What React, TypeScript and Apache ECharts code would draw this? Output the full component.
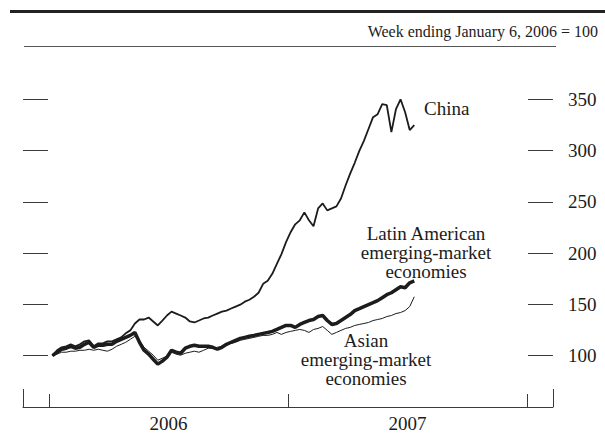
import React, { useEffect, useRef } from "react";
import * as echarts from "echarts";

// Weekly index values, week ending January 6, 2006 = 100
const FIRST_WEEK_DAY = 5; // days after Jan 1, 2006 (Jan 6, 2006)

const china = [
  100, 105.3, 108.2, 109.2, 111.1, 109.2, 111.1, 114.0, 115.0, 109.2,
  112.1, 112.1, 114.0, 114.0, 116.0, 117.9, 121.8, 124.7, 131.4, 135.3,
  135.3, 137.2, 133.4, 129.5, 134.3, 139.2, 143.0, 141.1, 139.2, 137.2,
  133.4, 132.4, 134.3, 136.3, 137.2, 139.2, 141.1, 143.0, 144.0, 146.0,
  147.9, 149.8, 152.7, 154.6, 157.5, 161.4, 170.1, 173.0, 179.8, 189.5,
  199.1, 210.7, 220.4, 228.1, 232.0, 239.7, 232.0, 226.2, 243.6, 248.5,
  241.7, 243.6, 245.6, 253.3, 265.9, 277.5, 288.1, 299.7, 309.4, 321.0,
  332.6, 335.5, 345.2, 344.2, 318.0, 340.3, 350.0, 337.4, 320.0, 324.9,
];

const latinAmerica = [
  100, 103.4, 106.3, 107.3, 109.2, 107.3, 108.2, 111.1, 113.1, 108.2,
  110.2, 110.2, 111.1, 111.1, 114.0, 116.0, 117.9, 119.8, 122.7, 113.1,
  105.3, 101.5, 96.6, 91.8, 94.7, 98.5, 105.3, 103.4, 102.4, 107.3,
  109.2, 110.2, 109.2, 109.2, 109.2, 108.2, 106.3, 108.2, 111.1, 113.1,
  115.0, 116.9, 117.9, 118.9, 119.8, 120.8, 121.8, 122.7, 123.7, 125.6,
  127.6, 129.5, 129.5, 127.6, 130.5, 132.4, 134.3, 135.3, 138.2, 139.2,
  134.3, 130.5, 131.4, 134.3, 137.2, 140.1, 144.0, 145.9, 147.9, 149.8,
  151.7, 153.7, 156.6, 159.5, 161.4, 164.3, 167.2, 166.3, 171.1, 173.0,
];

const asia = [
  100, 101.5, 103.4, 103.4, 104.4, 104.4, 105.3, 105.3, 106.3, 105.3,
  106.3, 105.3, 104.4, 106.3, 109.2, 111.1, 113.1, 116.0, 118.9, 115.0,
  108.2, 104.4, 100.5, 95.6, 97.6, 99.5, 103.4, 101.5, 100.5, 102.4,
  103.4, 104.4, 103.4, 105.3, 107.3, 107.3, 108.2, 109.2, 111.1, 112.1,
  113.1, 115.0, 116.0, 116.9, 117.9, 118.9, 119.8, 119.8, 120.8, 122.7,
  120.8, 122.7, 123.7, 124.7, 125.6, 124.7, 122.7, 125.6, 126.6, 128.5,
  124.7, 120.8, 122.7, 124.7, 126.6, 127.6, 129.5, 130.5, 131.4, 132.4,
  134.3, 135.3, 136.3, 138.2, 139.2, 141.1, 142.1, 144.0, 147.9, 157.5,
];

const yearLabels = ["2006", "2007"];
const yearStarts = [0, 365, 730];
const yTicks = [100, 150, 200, 250, 300, 350];

const FONT = "'Liberation Serif', 'Times New Roman', serif";
const INK = "#1c1c1c";
const AXIS = "#3a3a3a";

function toPairs(values: number[]) {
  return values.map((v, i) => [FIRST_WEEK_DAY + 7 * i, v]);
}

export default function App() {
  const ref = useRef<HTMLDivElement>(null);

  useEffect(() => {
    document.body.style.margin = "0";
    if (!ref.current) return;
    const chart = echarts.init(ref.current, undefined, { renderer: "svg" });

    const xBase = {
      type: "value" as const,
      min: -40,
      max: 770,
      position: "bottom" as const,
      splitLine: { show: false },
    };
    const yBase = {
      type: "value" as const,
      min: 50,
      max: 400,
      interval: 50,
      splitLine: { show: false },
      axisLine: { show: false, onZero: false },
    };

    chart.setOption({
      animation: false,
      backgroundColor: "#ffffff",
      grid: { left: 23, right: 52, top: 48, bottom: 23, containLabel: false },
      xAxis: [
        {
          ...xBase,
          axisLine: { show: true, onZero: false, lineStyle: { color: AXIS, width: 1 } },
          axisTick: {
            show: true,
            inside: true,
            length: 13,
            customValues: yearStarts,
            lineStyle: { color: AXIS, width: 1 },
          },
          axisLabel: {
            show: true,
            customValues: [182.5, 547.5],
            formatter: (v: number) => (v < 365 ? yearLabels[0] : yearLabels[1]),
            margin: 7,
            fontSize: 19,
            fontFamily: FONT,
            color: INK,
          },
        },
        {
          ...xBase,
          axisLine: { show: false, onZero: false },
          axisTick: {
            show: true,
            inside: true,
            length: 18,
            customValues: [-40, 770],
            lineStyle: { color: AXIS, width: 1 },
          },
          axisLabel: { show: false },
        },
      ],
      yAxis: [
        {
          ...yBase,
          position: "left",
          axisTick: {
            show: true,
            inside: true,
            length: 25,
            customValues: yTicks,
            lineStyle: { color: AXIS, width: 1 },
          },
          axisLabel: { show: false },
        },
        {
          ...yBase,
          position: "right",
          axisTick: {
            show: true,
            inside: true,
            length: 25,
            customValues: yTicks,
            lineStyle: { color: AXIS, width: 1 },
          },
          axisLabel: {
            show: true,
            customValues: yTicks,
            margin: 15,
            fontSize: 19,
            fontFamily: FONT,
            color: INK,
          },
        },
      ],
      series: [
        {
          name: "Latin American emerging-market economies",
          type: "line",
          data: toPairs(latinAmerica),
          showSymbol: false,
          lineStyle: { color: INK, width: 3.5 },
          xAxisIndex: 0,
          yAxisIndex: 0,
        },
        {
          name: "China",
          type: "line",
          data: toPairs(china),
          showSymbol: false,
          lineStyle: { color: INK, width: 1.8 },
          xAxisIndex: 0,
          yAxisIndex: 0,
        },
        {
          name: "Asian emerging-market economies",
          type: "line",
          data: toPairs(asia),
          showSymbol: false,
          lineStyle: { color: INK, width: 1 },
          xAxisIndex: 0,
          yAxisIndex: 0,
        },
      ],
      graphic: [
        {
          type: "line",
          shape: { x1: 10, y1: 11.5, x2: 605, y2: 11.5 },
          style: { stroke: "#222", lineWidth: 3 },
        },
        {
          type: "line",
          shape: { x1: 24, y1: 46.5, x2: 556, y2: 46.5 },
          style: { stroke: "#555", lineWidth: 1 },
        },
        {
          type: "text",
          x: 598,
          y: 31,
          style: {
            text: "Week ending January 6, 2006 = 100",
            align: "right",
            verticalAlign: "middle",
            fontSize: 16,
            fontFamily: FONT,
            fill: INK,
          },
        },
        {
          type: "text",
          x: 424,
          y: 108,
          style: {
            text: "China",
            align: "left",
            verticalAlign: "middle",
            fontSize: 19,
            fontFamily: FONT,
            fill: INK,
          },
        },
        {
          type: "text",
          x: 426,
          y: 252,
          style: {
            text: "Latin American\nemerging-market\neconomies",
            align: "center",
            verticalAlign: "middle",
            fontSize: 19,
            lineHeight: 19,
            fontFamily: FONT,
            fill: INK,
          },
        },
        {
          type: "text",
          x: 366,
          y: 359,
          style: {
            text: "Asian\nemerging-market\neconomies",
            align: "center",
            verticalAlign: "middle",
            fontSize: 19,
            lineHeight: 19,
            fontFamily: FONT,
            fill: INK,
          },
        },
      ],
    });

    return () => {
      chart.dispose();
    };
  }, []);

  return (
    <div
      ref={ref}
      style={{ position: "fixed", left: 0, top: 0, width: 605, height: 433, background: "#fff" }}
    />
  );
}
